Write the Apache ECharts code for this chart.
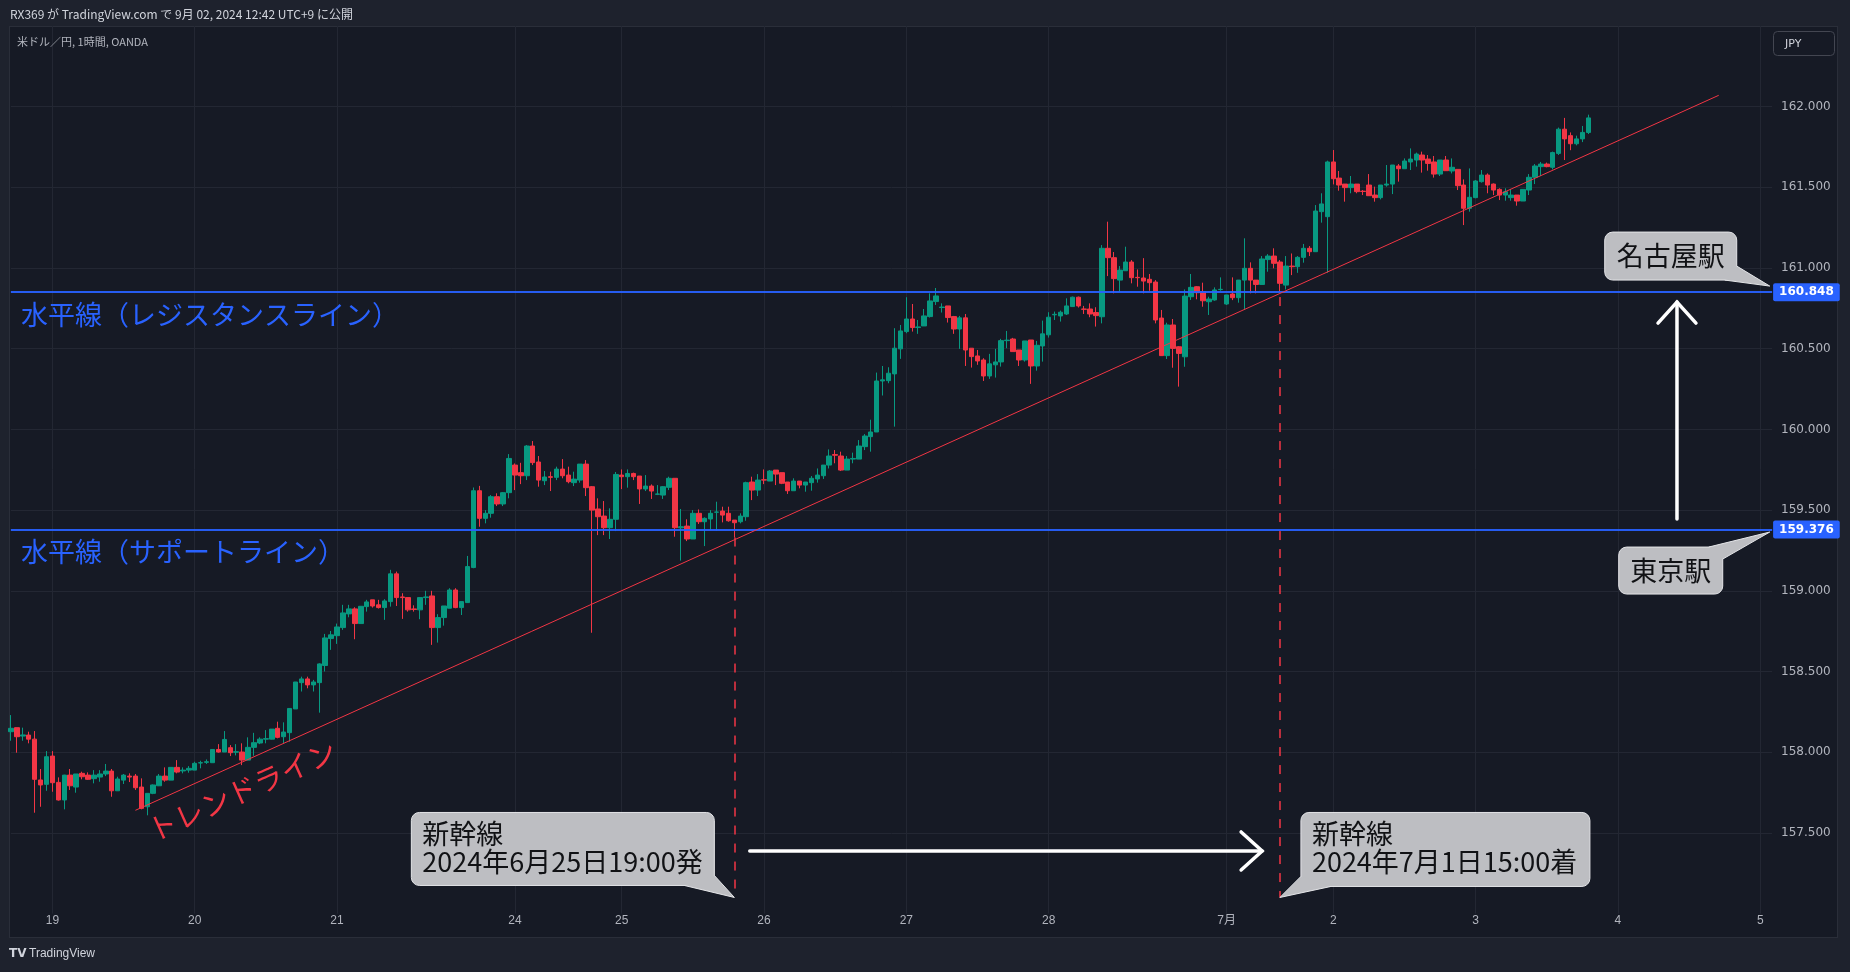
<!DOCTYPE html>
<html><head><meta charset="utf-8">
<script src="https://cdn.jsdelivr.net/npm/echarts@6/dist/echarts.min.js"></script>
<style>
html,body{margin:0;padding:0;background:#1E222D;width:1850px;height:972px;overflow:hidden;}
#panel{position:absolute;left:9px;top:26px;width:1829px;height:912px;background:#161A25;border:1px solid #2A2E39;box-sizing:border-box;}
#c{position:absolute;left:0;top:0;width:1850px;height:972px;}
</style></head><body>
<div id="panel"></div><div id="c"></div>
<script>
// ---------- data ----------
const headerText = 'RX369 が TradingView.com で 9月 02, 2024 12:42 UTC+9 に公開';
const legendText = '米ドル／円, 1時間, OANDA';
const sessions = [
  ['2024-06-18T17:00', '2024-06-22T05:00'],
  ['2024-06-24T06:00', '2024-06-29T05:00'],
  ['2024-07-01T06:00', '2024-07-05T02:00']
];
// hourly candles [open, high, low, close]
const jun18 = [
[158.127,158.230,158.071,158.148],[158.152,158.152,157.997,158.096],[158.100,158.152,158.071,158.107],
[158.106,158.127,158.055,158.081],[158.081,158.131,157.625,157.832],[157.828,157.896,157.662,157.797],
[157.801,158.007,157.761,157.972]];
const jun19 = [
[157.976,158.007,157.755,157.811],[157.813,157.844,157.700,157.704],[157.704,157.860,157.646,157.858],
[157.858,157.896,157.766,157.792],[157.784,157.865,157.749,157.865],[157.869,157.879,157.832,157.848],
[157.858,157.875,157.828,157.832],[157.836,157.889,157.807,157.858],[157.846,157.889,157.817,157.865],
[157.865,157.927,157.852,157.883],[157.883,157.896,157.724,157.761],[157.761,157.848,157.761,157.834],
[157.827,157.865,157.803,157.858],[157.852,157.869,157.815,157.846],[157.852,157.865,157.766,157.780],
[157.784,157.838,157.646,157.652],[157.662,157.745,157.609,157.745],[157.745,157.800,157.740,157.797],
[157.792,157.865,157.790,157.852],[157.852,157.906,157.817,157.827],[157.827,157.906,157.827,157.906],
[157.906,157.951,157.869,157.877],[157.884,157.906,157.869,157.889],[157.889,157.914,157.873,157.900]];
const jun20 = [
[157.889,157.941,157.889,157.931],[157.933,157.947,157.900,157.935],[157.937,157.955,157.927,157.941],
[157.935,158.017,157.935,158.017],[158.017,158.050,157.997,158.001],[158.001,158.131,158.001,158.079],
[158.028,158.044,157.976,157.997],[158.000,158.050,157.980,158.003],[158.001,158.055,157.920,157.951],
[157.951,158.092,157.950,158.030],[158.030,158.120,157.978,158.059],[158.057,158.092,158.050,158.081],
[158.081,158.137,158.055,158.084],[158.081,158.143,158.079,158.143],[158.148,158.189,158.086,158.092],
[158.096,158.185,158.055,158.125],[158.121,158.271,158.065,158.271],[158.268,158.435,158.268,158.435],
[158.431,158.468,158.376,158.454],[158.454,158.468,158.396,158.417],[158.417,158.448,158.376,158.435],
[158.431,158.551,158.245,158.547],[158.537,158.733,158.500,158.708],[158.704,158.751,158.634,158.727]];
const jun21 = [
[158.722,158.797,158.671,158.776],[158.772,158.913,158.758,158.863],[158.857,158.913,158.836,158.888],
[158.888,158.898,158.700,158.797],[158.797,158.904,158.797,158.904],[158.902,158.944,158.871,158.931],
[158.944,158.944,158.896,158.906],[158.913,158.944,158.890,158.896],[158.896,158.948,158.820,158.937],
[158.933,159.130,158.902,159.105],[159.105,159.119,158.906,158.958],[158.962,158.985,158.826,158.958],
[158.958,158.958,158.871,158.882],[158.888,158.910,158.871,158.884],[158.882,158.958,158.824,158.958],
[158.958,159.000,158.913,158.962],[158.968,159.000,158.665,158.772],[158.772,158.855,158.679,158.834],
[158.834,158.906,158.784,158.906],[158.892,159.016,158.892,159.005],[159.005,159.016,158.892,158.896],
[158.896,158.933,158.850,158.933],[158.927,159.216,158.927,159.150],[159.144,159.640,159.140,159.620]];
const jun22 = [
[159.620,159.650,159.397,159.449],[159.449,159.500,159.418,159.480],[159.480,159.593,159.453,159.583],
[159.583,159.604,159.525,159.538],[159.538,159.612,159.525,159.608],[159.608,159.847,159.573,159.820]];
const jun24 = [
[159.779,159.789,159.624,159.717],[159.732,159.793,159.661,159.713],[159.713,159.903,159.686,159.897],
[159.897,159.928,159.779,159.794],[159.798,159.835,159.645,159.686],[159.682,159.742,159.655,159.705],
[159.707,159.738,159.618,159.703],[159.703,159.769,159.686,159.754],[159.754,159.816,159.697,159.713],
[159.717,159.769,159.666,159.676],[159.670,159.738,159.649,159.692],[159.686,159.785,159.670,159.785],
[159.785,159.810,159.587,159.639],[159.645,159.649,158.740,159.500],[159.507,159.573,159.345,159.459],
[159.463,159.556,159.345,159.391],[159.391,159.511,159.321,159.443],[159.443,159.736,159.370,159.721]];
const jun25 = [
[159.717,159.752,159.630,159.707],[159.707,159.752,159.639,159.727],[159.727,159.732,159.686,159.707],
[159.711,159.711,159.538,159.631],[159.631,159.717,159.618,159.649],[159.649,159.659,159.569,159.618],
[159.598,159.655,159.593,159.600],[159.593,159.649,159.569,159.645],[159.641,159.707,159.624,159.697],
[159.697,159.697,159.335,159.391],[159.390,159.507,159.187,159.397],[159.401,159.443,159.308,159.321],
[159.321,159.500,159.321,159.480],[159.480,159.504,159.414,159.428],[159.428,159.455,159.277,159.449],
[159.445,159.500,159.376,159.480],[159.487,159.552,159.372,159.488],[159.494,159.521,159.424,159.469],
[159.480,159.521,159.428,159.434],[159.438,159.438,159.330,159.422],[159.428,159.480,159.418,159.463],
[159.459,159.676,159.434,159.670],[159.674,159.707,159.562,159.624],[159.624,159.723,159.587,159.686]];
const jun26 = [
[159.688,159.752,159.661,159.686],[159.680,159.748,159.680,159.742],[159.748,159.748,159.655,159.723],
[159.732,159.732,159.661,159.666],[159.674,159.674,159.600,159.620],[159.620,159.697,159.620,159.680],
[159.680,159.680,159.635,159.655],[159.655,159.674,159.614,159.674],[159.670,159.711,159.620,159.697],
[159.693,159.758,159.670,159.717],[159.713,159.779,159.693,159.779],[159.779,159.876,159.758,159.835],
[159.844,159.872,159.790,159.840],[159.835,159.862,159.742,159.748],[159.748,159.835,159.748,159.816],
[159.816,159.856,159.790,159.820],[159.816,159.934,159.816,159.897],[159.893,159.971,159.872,159.959],
[159.955,160.060,159.862,159.984],[159.984,160.352,159.984,160.300],[160.300,160.393,160.210,160.307],
[160.302,160.385,160.286,160.348],[160.344,160.627,160.017,160.503],[160.499,160.647,160.437,160.610]];
const jun27 = [
[160.606,160.819,160.596,160.684],[160.684,160.777,160.606,160.631],[160.631,160.678,160.592,160.635],
[160.641,160.746,160.641,160.703],[160.699,160.843,160.693,160.796],[160.792,160.876,160.771,160.827],
[160.755,160.781,160.724,160.758],[160.765,160.765,160.662,160.693],[160.699,160.703,160.592,160.622],
[160.622,160.703,160.499,160.691],[160.691,160.715,160.393,160.492],[160.503,160.503,160.383,160.451],
[160.455,160.492,160.400,160.424],[160.430,160.441,160.300,160.331],[160.331,160.468,160.313,160.406],
[160.400,160.499,160.321,160.418],[160.418,160.561,160.389,160.550],[160.550,160.610,160.503,160.553],
[160.560,160.567,160.482,160.482],[160.492,160.492,160.393,160.430],[160.430,160.548,160.420,160.548],
[160.554,160.554,160.282,160.393],[160.393,160.548,160.364,160.521],[160.517,160.674,160.420,160.592]];
const jun28 = [
[160.586,160.726,160.569,160.695],[160.710,160.730,160.678,160.713],[160.703,160.736,160.668,160.726],
[160.715,160.812,160.709,160.765],[160.761,160.823,160.761,160.819],[160.819,160.823,160.755,160.765],
[160.746,160.765,160.715,160.744],[160.746,160.781,160.695,160.715],[160.724,160.757,160.637,160.705],
[160.698,161.142,160.657,161.122],[161.122,161.287,160.950,161.064],[161.064,161.099,160.843,160.934],
[160.925,161.012,160.853,160.987],[160.983,161.132,160.983,161.037],[161.037,161.049,160.905,160.940],
[160.942,160.991,160.884,160.940],[160.938,161.061,160.843,160.919],[160.930,160.963,160.859,160.909],
[160.913,160.925,160.657,160.678],[160.690,160.740,160.457,160.457],[160.457,160.661,160.436,160.647],
[160.647,160.684,160.382,160.502],[160.512,160.516,160.265,160.471],[160.450,160.867,160.388,160.826]];
const jun29 = [
[160.822,160.963,160.802,160.880],[160.884,160.888,160.806,160.847],[160.853,160.909,160.760,160.797],
[160.791,160.822,160.709,160.808],[160.802,160.880,160.797,160.864],[160.866,160.942,160.859,160.868]];
const jul01 = [
[160.777,160.833,160.771,160.833],[160.839,160.942,160.801,160.816],[160.816,160.925,160.785,160.925],
[160.925,161.184,160.740,160.998],[160.998,161.035,160.843,160.925],[160.925,160.925,160.843,160.898],
[160.898,161.074,160.898,161.056],[161.052,161.086,160.977,161.074],[161.074,161.122,160.998,161.029],
[161.037,161.049,160.853,160.905],[160.894,161.074,160.867,161.012],[161.012,161.090,160.956,161.008],
[161.008,161.074,160.970,161.066],[161.066,161.149,161.033,161.122],[161.122,161.136,161.074,161.101],
[161.101,161.390,161.101,161.353],[161.349,161.463,161.281,161.397],[161.318,161.665,160.971,161.657]];
const jul02 = [
[161.657,161.731,161.518,161.553],[161.557,161.601,161.479,161.514],[161.520,161.520,161.411,161.498],
[161.498,161.570,161.463,161.520],[161.520,161.520,161.463,161.473],[161.476,161.483,161.452,161.474],
[161.514,161.582,161.448,161.448],[161.452,161.504,161.411,161.436],[161.436,161.514,161.425,161.514],
[161.514,161.638,161.504,161.520],[161.520,161.638,161.458,161.638],[161.632,161.644,161.535,161.615],
[161.615,161.679,161.615,161.663],[161.657,161.741,161.607,161.675],[161.669,161.715,161.628,161.706],
[161.700,161.721,161.591,161.669],[161.675,161.700,161.603,161.648],[161.657,161.694,161.560,161.582],
[161.582,161.669,161.570,161.669],[161.669,161.694,161.603,161.603],[161.601,161.679,161.586,161.624],
[161.611,161.611,161.483,161.510],[161.514,161.549,161.266,161.370],[161.370,161.617,161.349,161.438]];
const jul03 = [
[161.436,161.545,161.432,161.539],[161.535,161.607,161.529,161.576],[161.576,161.586,161.463,161.514],
[161.520,161.524,161.452,161.483],[161.487,161.494,161.421,161.452],[161.452,161.494,161.417,161.473],
[161.436,161.490,161.417,161.452],[161.452,161.452,161.386,161.415],[161.415,161.487,161.415,161.487],
[161.483,161.582,161.452,161.562],[161.562,161.644,161.520,161.632],[161.628,161.657,161.570,161.644],
[161.644,161.653,161.624,161.628],[161.624,161.721,161.611,161.715],[161.710,161.870,161.700,161.860],
[161.860,161.930,161.669,161.800],[161.820,161.840,161.730,161.770],[161.770,161.820,161.760,161.800],
[161.800,161.880,161.780,161.840],[161.840,161.950,161.830,161.930]];

const resistanceLevel = 160.848;
const supportLevel = 159.376;
const resistanceText = '水平線（レジスタンスライン）';
const supportText = '水平線（サポートライン）';
const trendText = 'トレンドライン';
const trendStart = ['06-19 14:00', 157.64];
const trendEnd = ['07-04 17:00', 162.07];
const departTime = '06-25 19:00', departTop = 159.33;
const arriveTime = '07-01 15:00', arriveTop = 160.82;
const calloutFloor = 157.10;
const departLines = ['新幹線', '2024年6月25日19:00発'];
const arriveLines = ['新幹線', '2024年7月1日15:00着'];
const nagoyaText = '名古屋駅', tokyoText = '東京駅';
// drawing anchors in (bar index, price)
const trendTextAt = [38.97, 157.762];
const arrowH = [[124.6, 157.388], [211.0, 157.388]];
const arrowV = [[280.96, 159.445], [280.96, 160.789]];
const nagoyaTip = [296.6, 160.888];
const tokyoTip = [296.6, 159.364];

// ---------- build ----------
const pad = n => (n < 10 ? '0' : '') + n;
const categories = [], dayLabel = [], dayKey = [];
sessions.forEach(([s, e], si) => {
  let t = Date.parse(s + ':00Z'); const end = Date.parse(e + ':00Z'); let k = 0;
  while (t <= end) {
    const d = new Date(t);
    const mo = d.getUTCMonth() + 1, da = d.getUTCDate(), hr = d.getUTCHours();
    categories.push(pad(mo) + '-' + pad(da) + ' ' + pad(hr) + ':00');
    dayKey.push(pad(mo) + '-' + pad(da));
    dayLabel.push((hr === 0 || (k === 0 && si > 0)) ? (da === 1 ? mo + '月' : String(da)) : null);
    t += 3600000; k++;
  }
});
// short (weekend-close) days get no label, as in the trading platform
const dayCount = {};
dayKey.forEach(k => { dayCount[k] = (dayCount[k] || 0) + 1; });
dayLabel.forEach((l, i) => { if (l !== null && dayCount[dayKey[i]] < 12 && i < 267) dayLabel[i] = null; });

const ohlc = [jun18, jun19, jun20, jun21, jun22, jun24, jun25, jun26, jun27, jun28, jun29, jul01, jul02, jul03].flat();
const candleData = ohlc.map(r => [r[0], r[3], r[2], r[1]]);

const UP = '#089981', DOWN = '#F23645', BLUE = '#2962FF';
const CJK = '"Noto Sans CJK JP", sans-serif';
const chart = echarts.init(document.getElementById('c'), null, {renderer: 'canvas'});
const isDay = (i) => dayLabel[i] !== null;

const hLine = (v, text) => ([
  {yAxis: v, lineStyle: {color: BLUE, width: 1.5, type: 'solid'},
   label: {show: true, position: 'insideStartBottom', formatter: text, color: BLUE, fontSize: 27,
           fontFamily: CJK, distance: [10, 9]}},
  {yAxis: v, lineStyle: {color: BLUE, width: 1.5, type: 'solid'},
   label: {show: true, position: 'end', formatter: v.toFixed(3), color: '#FFFFFF', fontWeight: 'bold',
           fontSize: 12, fontFamily: 'DejaVu Sans', backgroundColor: BLUE, padding: [3, 6, 3, 6], distance: 1,
           borderRadius: 2}}
]);

chart.setOption({
  animation: false,
  backgroundColor: 'transparent',
  grid: {left: 10.9, right: 77.9, top: 25.9, bottom: 58.4, containLabel: false, outerBoundsMode: 'none'},
  xAxis: {
    type: 'category', data: categories, boundaryGap: false,
    axisLine: {show: false}, axisTick: {show: false},
    axisLabel: {interval: (i) => isDay(i), formatter: (v, i) => dayLabel[i] || '', color: '#B2B5BE',
                fontSize: 12, fontFamily: '"Liberation Sans", "Noto Sans CJK JP", sans-serif', margin: 1},
    splitLine: {show: true, interval: (i) => isDay(i), lineStyle: {color: '#232733', width: 1}}
  },
  yAxis: {
    type: 'value', position: 'right', min: 157.0, max: 162.5, interval: 0.5, scale: true,
    axisLine: {show: false}, axisTick: {show: false},
    axisLabel: {formatter: v => v.toFixed(3), color: '#B2B5BE', fontSize: 12, fontFamily: 'DejaVu Sans',
                margin: 9, showMinLabel: false, showMaxLabel: false},
    splitLine: {show: true, showMinLine: false, showMaxLine: false, lineStyle: {color: '#232733', width: 1}}
  },
  series: [{
    type: 'candlestick', data: candleData, barWidth: 5,
    itemStyle: {color: UP, color0: DOWN, borderColor: UP, borderColor0: DOWN, borderWidth: 1},
    emphasis: {disabled: true},
    markLine: {
      silent: true, symbol: ['none', 'none'], animation: false,
      data: [
        ...hLine(resistanceLevel, resistanceText),
        ...hLine(supportLevel, supportText),
        [{coord: trendStart, lineStyle: {color: '#F23645', width: 1, type: 'solid'}, label: {show: false}},
         {coord: trendEnd}],
        [{coord: [departTime, departTop], lineStyle: {color: '#F23645', width: 1.5, type: [9, 9]}, label: {show: false}},
         {coord: [departTime, calloutFloor]}],
        [{coord: [arriveTime, arriveTop], lineStyle: {color: '#F23645', width: 1.5, type: [9, 9]}, label: {show: false}},
         {coord: [arriveTime, calloutFloor]}]
      ]
    }
  }]
});

// ---------- drawings anchored through the chart's scales ----------
function P(i, p) {
  const a = chart.convertToPixel({gridIndex: 0}, [0, p]);
  const b = chart.convertToPixel({gridIndex: 0}, [1, p]);
  return [a[0] + (b[0] - a[0]) * i, a[1]];
}
const idx = name => categories.indexOf(name);
const g = [];
const txt = (x, y, text, o) => Object.assign({type: 'text', x, y, silent: true, z: 100, style: Object.assign({
  text, fill: '#D1D4DC', fontSize: 12, fontFamily: CJK, align: 'left', textAlign: 'left',
  verticalAlign: 'middle', textVerticalAlign: 'middle'}, o || {})});
g.push(txt(10, 14, headerText, {fontSize: 12, fill: '#D1D4DC'}));
g.push(txt(17, 42, legendText, {fontSize: 11, fill: '#B2B5BE'}));
g.push({type: 'rect', silent: true, z: 100, shape: {x: 1773.5, y: 31.5, width: 61, height: 24, r: 4},
        style: {fill: 'transparent', stroke: '#434651', lineWidth: 1}});
g.push(txt(1785, 44, 'JPY', {fontSize: 11, fontFamily: 'DejaVu Sans', fill: '#D1D4DC'}));
g.push(txt(9, 954, 'TV', {fontSize: 12, fontWeight: 'bold', fontFamily: 'DejaVu Sans', fill: '#D1D4DC'}));
g.push(txt(29, 954, 'TradingView', {fontSize: 12, fontFamily: '"Liberation Sans Narrow", "Liberation Sans"', fill: '#D1D4DC'}));

// trend line caption
const tt = P(trendTextAt[0], trendTextAt[1]);
g.push({type: 'text', x: tt[0], y: tt[1], rotation: 0.42, silent: true, z: 100,
        style: {text: trendText, fill: '#F23645', fontSize: 29, fontFamily: CJK,
                align: 'center', textAlign: 'center', verticalAlign: 'middle', textVerticalAlign: 'middle'}});

// arrows
function arrow(from, to, wings) {
  const a = P(from[0], from[1]), b = P(to[0], to[1]);
  g.push({type: 'polyline', silent: true, z: 100, shape: {points: [a, b]},
          style: {stroke: '#FFFFFF', lineWidth: 3.5, lineCap: 'round', fill: null}});
  g.push({type: 'polyline', silent: true, z: 100,
          shape: {points: [[b[0] + wings[0][0], b[1] + wings[0][1]], b, [b[0] + wings[1][0], b[1] + wings[1][1]]]},
          style: {stroke: '#FFFFFF', lineWidth: 3.5, lineCap: 'round', lineJoin: 'miter', fill: null}});
}
arrow(arrowH[0], arrowH[1], [[-21, -19], [-21, 19]]);
arrow(arrowV[0], arrowV[1], [[-19, 21], [19, 21]]);

// callouts
const BOXFILL = '#BDBEC2', BOXLINE = '#E4E5E8';
function callout(T, bx, by, w, h, b1, b2, lines, center) {
  g.push({type: 'rect', silent: true, z: 110, shape: {x: bx, y: by, width: w, height: h, r: 8},
          style: {fill: BOXFILL, stroke: BOXLINE, lineWidth: 1}});
  g.push({type: 'polygon', silent: true, z: 111, shape: {points: [b1, T, b2]},
          style: {fill: BOXFILL, stroke: null}});
  g.push({type: 'polyline', silent: true, z: 112, shape: {points: [b1, T, b2]},
          style: {stroke: BOXLINE, lineWidth: 1, fill: null}});
  lines.forEach((s, k) => {
    if (center) {
      g.push(txt(bx + w / 2, by + h / 2, s, {fontSize: 27, fill: '#111215', align: 'center', textAlign: 'center'}));
    } else {
      g.push(txt(bx + 11, by + 21 + k * 28, s, {fontSize: 27, fill: '#111215'}));
    }
    g[g.length - 1].z = 113;
  });
}
{
  const T = P(idx(departTime), calloutFloor);
  const w = 303, h = 73, bx = T[0] - 20 - w, by = T[1] - 12 - h;
  callout(T, bx, by, w, h, [bx + w - 30, by + h], [bx + w, by + h - 10], departLines, false);
}
{
  const T = P(idx(arriveTime), calloutFloor);
  const w = 289, h = 74, bx = T[0] + 21, by = T[1] - 11 - h;
  callout(T, bx, by, w, h, [bx, by + h - 10], [bx + 30, by + h], arriveLines, false);
}
{
  const T = P(nagoyaTip[0], nagoyaTip[1]);
  const w = 132, h = 48, bx = T[0] - 165, by = T[1] - 54;
  callout(T, bx, by, w, h, [bx + w - 12, by + h], [bx + w, by + h - 14], [nagoyaText], true);
}
{
  const T = P(tokyoTip[0], tokyoTip[1]);
  const w = 104, h = 47, bx = T[0] - 151, by = T[1] + 15;
  callout(T, bx, by, w, h, [bx + w - 14, by], [bx + w, by + 12], [tokyoText], true);
}
chart.setOption({graphic: {elements: g}});
</script></body></html>
